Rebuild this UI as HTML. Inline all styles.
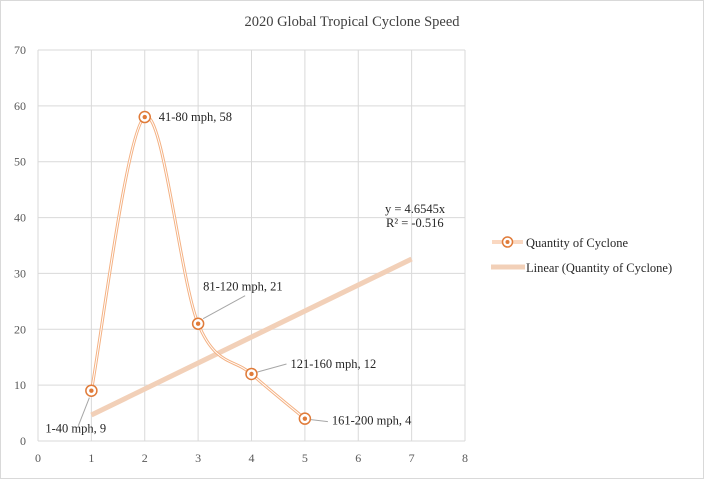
<!DOCTYPE html>
<html><head><meta charset="utf-8"><style>
body{margin:0;background:#fff}
svg{display:block;font-family:"Liberation Serif",serif}
</style></head><body>
<svg id="c" width="704" height="479">
<rect x="0.5" y="0.5" width="703" height="478" fill="#fff" stroke="#d9d9d9"/>
<text x="352" y="26" text-anchor="middle" font-size="14.5" fill="#404040">2020 Global Tropical Cyclone Speed</text>
<g id="grid"></g><g id="trend"></g><g id="series"></g><g id="labels"></g>
<g>
<g>
<line x1="492" y1="242" x2="523" y2="242" stroke="#f4b183" stroke-width="3"/>
<line x1="492" y1="242" x2="523" y2="242" stroke="#fff" stroke-width="1"/>
<circle cx="507.5" cy="242" r="5" fill="#fff" stroke="#e07b39" stroke-width="1.5"/>
<circle cx="507.5" cy="242" r="2" fill="#e07b39"/>
<text x="526" y="247" font-size="12.5" fill="#262626">Quantity of Cyclone</text></g>
<g>
<line x1="491" y1="267" x2="525" y2="267" stroke="#f2d0b8" stroke-width="5"/>
<text x="526" y="272" font-size="12.5" fill="#262626">Linear (Quantity of Cyclone)</text></g>
</g>
<text x="385" y="213" font-size="12.5" fill="#262626">y = 4.6545x</text>
<text x="386" y="227" font-size="12.5" fill="#262626">R² = -0.516</text>
</svg>
<script>
const categories=["1-40 mph","41-80 mph","81-120 mph","121-160 mph","161-200 mph"];
const xValues=[1,2,3,4,5];
const yValues=[9,58,21,12,4];
const xTicks=[0,1,2,3,4,5,6,7,8];
const yTicks=[0,10,20,30,40,50,60,70];
const trendSlope=4.6545;
const trendRange=[1,7];
const NS="http://www.w3.org/2000/svg";
const X=v=>38+v*(465-38)/8, Y=v=>441-v*(441-50)/70;
function mk(t,a,p){const e=document.createElementNS(NS,t);for(const k in a)e.setAttribute(k,a[k]);p.appendChild(e);return e;}
const g=document.getElementById('grid');
xTicks.forEach(t=>{const l=mk('line',{x1:X(t),x2:X(t),y1:Y(70),y2:Y(0),stroke:'#d9d9d9'},g);


const tx=mk('text',{x:X(t),y:462,'text-anchor':'middle','font-size':12,fill:'#595959'},g);tx.textContent=t;

});
yTicks.forEach(t=>{const l=mk('line',{x1:X(0),x2:X(8),y1:Y(t),y2:Y(t),stroke:'#d9d9d9'},g);


const tx=mk('text',{x:26,y:Y(t)+4,'text-anchor':'end','font-size':12,fill:'#595959'},g);tx.textContent=t;

});
const tr=mk('line',{x1:X(trendRange[0]),y1:Y(trendSlope*trendRange[0]),x2:X(trendRange[1]),y2:Y(trendSlope*trendRange[1]),stroke:'#f2d0b8','stroke-width':5},document.getElementById('trend'));


const P=xValues.map((x,i)=>[X(x),Y(yValues[i])]);
let d='M'+P[0].join(',');
for(let i=0;i<P.length-1;i++){const p0=P[i-1]||P[i],p1=P[i],p2=P[i+1],p3=P[i+2]||p2,k=1/6;
d+=` C${p1[0]+(p2[0]-p0[0])*k},${p1[1]+(p2[1]-p0[1])*k} ${p2[0]-(p3[0]-p1[0])*k},${p2[1]-(p3[1]-p1[1])*k} ${p2[0]},${p2[1]}`;}
const s=document.getElementById('series');
const o=mk('path',{d,fill:'none',stroke:'#f4b183','stroke-width':3},s);


mk('path',{d,fill:'none',stroke:'#fff','stroke-width':1},s);
const lg=document.getElementById('labels');
// label layout offsets relative to point: [leaderStartDx,leaderStartDy,leaderEndDx,leaderEndDy,textDx,textDy]
const lay=[[-2,7,-13,35,-46,42],[0,0,0,0,14,4],[5,-5,47,-28,5,-33],[6,-2,35,-10,39,-6],[6,1,23,3,27,6]];
P.forEach((p,i)=>{const c=mk('circle',{cx:p[0],cy:p[1],r:5.5,fill:'#fff',stroke:'#e07b39','stroke-width':1.5},s);


mk('circle',{cx:p[0],cy:p[1],r:2.2,fill:'#e07b39'},s);
const L=lay[i];
if(i!==1){mk('line',{x1:p[0]+L[0],y1:p[1]+L[1],x2:p[0]+L[2],y2:p[1]+L[3],stroke:'#a6a6a6'},lg);}
const tx=mk('text',{x:p[0]+L[4],y:p[1]+L[5],'font-size':12.5,fill:'#262626'},lg);
tx.textContent=categories[i]+', '+yValues[i];

});
</script>
</body></html>
